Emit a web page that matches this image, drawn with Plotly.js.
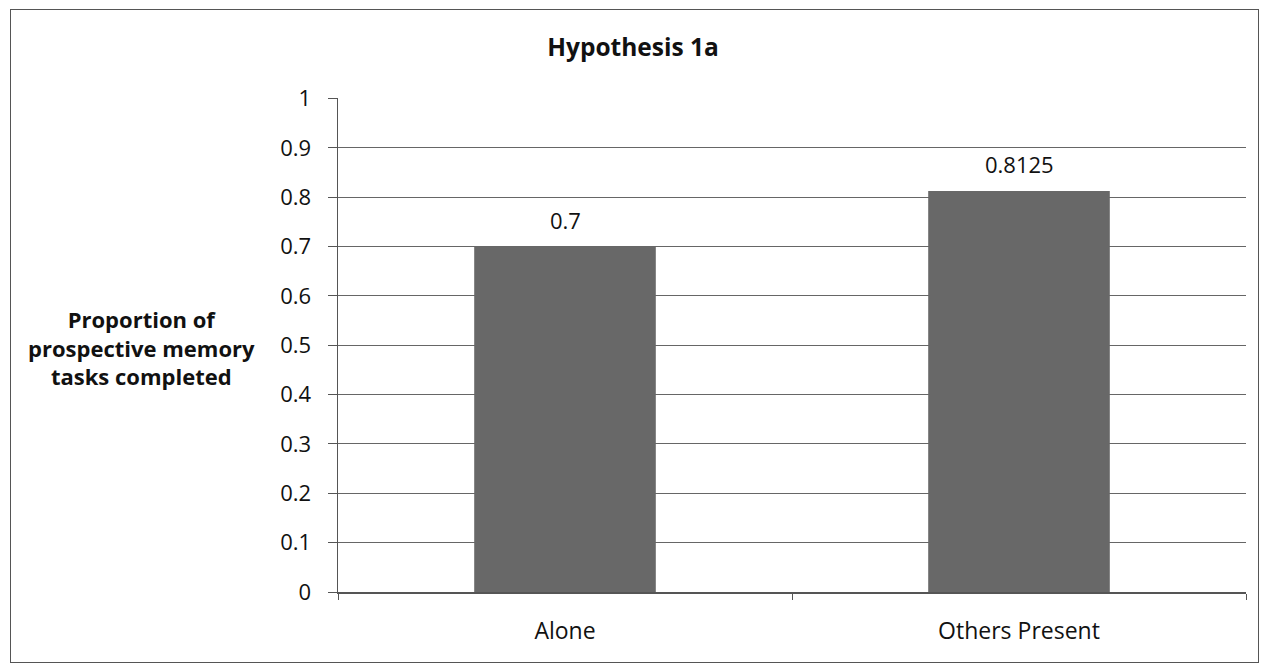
<!DOCTYPE html>
<html><head><meta charset="utf-8">
<script src="https://cdn.plot.ly/plotly-3.0.1.min.js"></script>
<style>
html,body{margin:0;padding:0;background:#fff;}
#chart{width:1266px;height:672px;}
#frame{position:absolute;left:10px;top:9px;width:1247px;height:652px;border:1.5px solid #555;pointer-events:none;}
</style></head>
<body>
<div id="chart"></div>
<div id="frame"></div>
<script>
const categories = ["Alone", "Others Present"];
const values = [0.7, 0.8125];
const valueLabels = ["0.7", "0.8125"];
const tickValues = [0,0.1,0.2,0.3,0.4,0.5,0.6,0.7,0.8,0.9,1];
const tickLabels = ["0","0.1","0.2","0.3","0.4","0.5","0.6","0.7","0.8","0.9","1"];

const font = "Open Sans, Lato, sans-serif";
const trace = {
  type: "bar",
  x: categories,
  y: values,
  marker: {color: "#686868", line: {width: 0}},
  width: 0.40,
  hoverinfo: "none"
};
const valueAnnotations = categories.map((c, i) => ({
  x: c, y: values[i], xref: "x", yref: "y",
  text: valueLabels[i], showarrow: false,
  xanchor: "center", yanchor: "middle", yshift: 27,
  font: {family: font, size: 22, color: "#111"}
}));
const layout = {
  width: 1266, height: 672,
  margin: {l: 338, r: 20, t: 98, b: 80},
  paper_bgcolor: "#fff", plot_bgcolor: "#fff",
  showlegend: false,
  title: {text: "<b>Hypothesis 1a</b>", x: 0.5, xanchor: "center", y: 1 - 47/672, yanchor: "middle",
          font: {family: font, size: 24.5, color: "#111"}},
  xaxis: {
    type: "category",
    showline: true, linecolor: "#555", linewidth: 1.5,
    ticks: "outside", tickson: "boundaries", ticklen: 6, tickcolor: "#555",
    ticklabelstandoff: 18,
    tickfont: {family: font, size: 23, color: "#111"},
    showgrid: false, zeroline: false
  },
  yaxis: {
    range: [0, 1.001],
    tickvals: tickValues, ticktext: tickLabels,
    ticks: "outside", ticklen: 9, tickcolor: "#555",
    ticklabelstandoff: 12,
    showline: true, linecolor: "#555", linewidth: 1.5,
    showgrid: true, gridcolor: "#666", gridwidth: 1,
    zeroline: false,
    tickfont: {family: font, size: 22, color: "#111"}
  },
  annotations: [{
    text: "<b>Proportion of<br>prospective memory<br>tasks completed</b>",
    xref: "paper", yref: "paper", x: (141 - 338) / 908, y: (592 - 347) / 494,
    xanchor: "center", yanchor: "middle", showarrow: false, align: "center",
    font: {family: font, size: 22, color: "#111"}
  }].concat(valueAnnotations)
};
Plotly.newPlot("chart", [trace], layout, {displayModeBar: false, staticPlot: true});
</script>
</body></html>
